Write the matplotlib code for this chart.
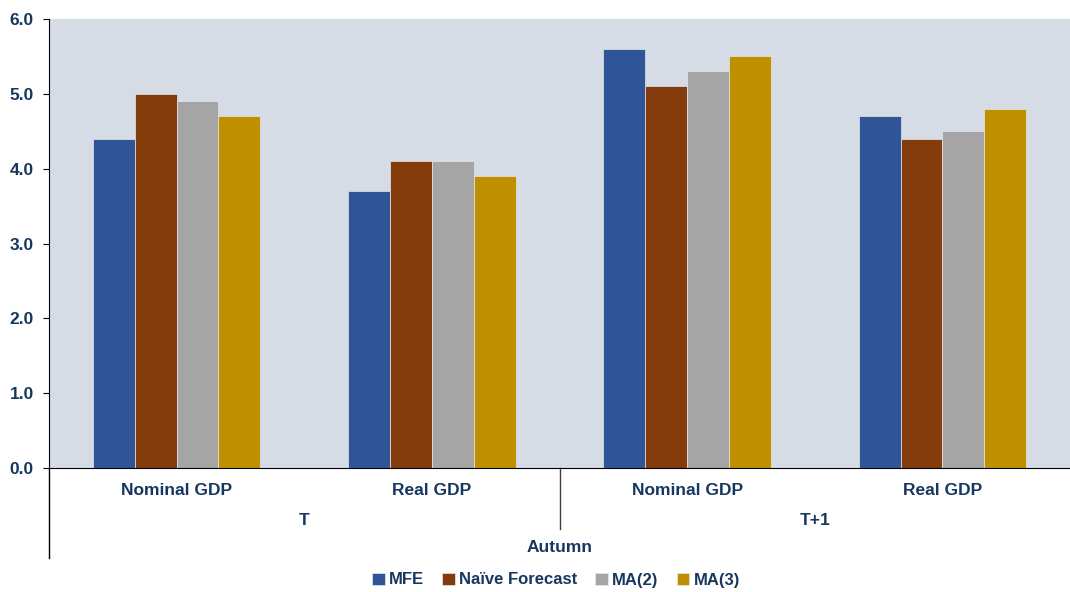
import numpy as np
import matplotlib
matplotlib.use('Agg')
import matplotlib.pyplot as plt

plt.rcParams['font.family'] = ['Liberation Sans', 'DejaVu Sans']

categories = ['Nominal GDP', 'Real GDP', 'Nominal GDP', 'Real GDP']
groups = ['T', 'T+1']
season = 'Autumn'
series = ['MFE', 'Naïve Forecast', 'MA(2)', 'MA(3)']
mfe = [4.4, 3.7, 5.6, 4.7]
naive = [5.0, 4.1, 5.1, 4.4]
ma2 = [4.9, 4.1, 5.3, 4.5]
ma3 = [4.7, 3.9, 5.5, 4.8]
colors = ['#2F5597', '#843C0C', '#A5A5A5', '#BF9000']
txt = '#17375E'

fig = plt.figure(figsize=(10.7, 5.92), dpi=100)
ax = fig.add_axes([49/1070, 124/592, 1021/1070, 449/592])
ax.set_facecolor('#D6DCE5')

x = np.arange(len(categories))
w = 0.164
for i, (vals, name) in enumerate(zip([mfe, naive, ma2, ma3], series)):
    ax.bar(x + (i - 1.5) * w, vals, w, color=colors[i], label=name,
           edgecolor='#E4E8EE', linewidth=0.5, zorder=2)

ax.set_xlim(-0.5, len(categories) - 0.5)
ax.set_ylim(0, 6)
ax.set_yticks(np.arange(0, 6.1, 1))
ax.set_yticklabels(['%.1f' % v for v in np.arange(0, 6.1, 1)],
                   fontsize=12.5, fontweight='bold', color=txt)
ax.tick_params(axis='y', length=4, color='black', pad=7)
ax.set_xticks([])
for s in ['top', 'right']:
    ax.spines[s].set_visible(False)
ax.spines['left'].set_color('black')
ax.spines['bottom'].set_color('black')
ax.spines['left'].set_bounds(0, 6)

tr = ax.get_xaxis_transform()
for xi, c in zip(x, categories):
    ax.text(xi, -0.05, c, transform=tr, ha='center', va='center',
            fontsize=12.5, fontweight='bold', color=txt)
for gi, g in enumerate(groups):
    ax.text(gi * 2 + 0.5, -0.117, g, transform=tr, ha='center', va='center',
            fontsize=12.5, fontweight='bold', color=txt)
ax.text(1.5, -0.178, season, transform=tr, ha='center', va='center',
        fontsize=12.5, fontweight='bold', color=txt)

# category separators
ax.plot([-0.5, -0.5], [0, -0.2], transform=tr, color='black', lw=1, clip_on=False)
ax.plot([1.5, 1.5], [0, -0.135], transform=tr, color='#404040', lw=1, clip_on=False)

leg = fig.legend(loc='center', bbox_to_anchor=(556/1070, 12/592), ncol=4,
                 frameon=False, handlelength=0.75, handleheight=0.75,
                 handletextpad=0.25, columnspacing=1.1,
                 prop={'size': 12, 'weight': 'bold'})
for t in leg.get_texts():
    t.set_color(txt)

fig.savefig('out.png', dpi=100)
